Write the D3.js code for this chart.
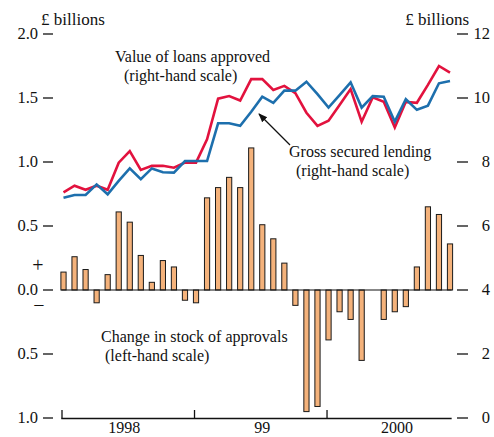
<!DOCTYPE html>
<html>
<head>
<meta charset="utf-8">
<script src="https://cdn.jsdelivr.net/npm/d3@7"></script>
<style>
  body { margin: 0; background: #fff; }
  text { font-family: "Liberation Serif", "DejaVu Serif", serif; fill: #111; }
</style>
</head>
<body>
<div id="chart"></div>
<script>
// monthly data, Jan 1998 - Dec 2000
const stockChange = [0.14, 0.26, 0.16, -0.10, 0.12, 0.61, 0.53, 0.27, 0.06, 0.23, 0.18, -0.08,
                     -0.10, 0.72, 0.80, 0.88, 0.80, 1.11, 0.51, 0.40, 0.21, -0.12, -0.95, -0.91,
                     -0.39, -0.17, -0.23, -0.55, 0, -0.23, -0.17, -0.13, 0.18, 0.65, 0.59, 0.36];
const loansApproved = [7.05, 7.26, 7.13, 7.26, 7.13, 7.98, 8.34, 7.75, 7.88, 7.88, 7.82, 7.98,
                       7.98, 8.71, 9.98, 10.06, 9.92, 10.59, 10.59, 10.25, 10.38, 10.15, 9.54, 9.13,
                       9.29, 9.78, 10.28, 9.26, 10.02, 9.88, 9.08, 9.88, 9.85, 10.41, 11.0, 10.79];
const grossLending = [6.88, 6.97, 6.97, 7.30, 6.99, 7.41, 7.80, 7.46, 7.80, 7.68, 7.67, 8.03,
                      8.03, 8.03, 9.21, 9.21, 9.13, 9.57, 10.04, 9.85, 10.23, 10.23, 10.51, 10.12,
                      9.70, 10.09, 10.49, 9.70, 10.06, 10.04, 9.26, 9.96, 9.63, 9.76, 10.46, 10.53];
const leftTicks = [2.0, 1.5, 1.0, 0.5, 0.0, -0.5, -1.0];
const rightTicks = [12, 10, 8, 6, 4, 2, 0];
const yearTicks = [0, 12, 24];
const yearLabels = [{ label: "1998", pos: 5.5 }, { label: "99", pos: 18 }, { label: "2000", pos: 30.2 }];

const width = 494, height = 437;
const fs = 16.5;
const svg = d3.select("#chart").append("svg").attr("width", width).attr("height", height);

const x = d3.scaleLinear().domain([0, 35]).range([63.5, 450]);
const yL = d3.scaleLinear().domain([-1, 2]).range([418, 34]);
const yR = d3.scaleLinear().domain([0, 12]).range([418, 34]);

// left axis
const left = svg.append("g");
leftTicks.forEach(t => {
  left.append("line").attr("x1", 43).attr("x2", 53).attr("y1", yL(t)).attr("y2", yL(t))
    .attr("stroke", "#111").attr("stroke-width", 1.3);
  left.append("text").attr("x", 38).attr("y", yL(t) + 5).attr("text-anchor", "end")
    .attr("font-size", fs).text(Math.abs(t).toFixed(1));
});
svg.append("text").attr("x", 41).attr("y", 25).attr("font-size", 17).text("£ billions");
svg.append("text").attr("x", 38).attr("y", 272).attr("text-anchor", "middle").attr("font-size", 20).text("+");
svg.append("text").attr("x", 39).attr("y", 312).attr("text-anchor", "middle").attr("font-size", 20).text("−");

// right axis
rightTicks.forEach(t => {
  svg.append("line").attr("x1", 457).attr("x2", 468).attr("y1", yR(t)).attr("y2", yR(t))
    .attr("stroke", "#111").attr("stroke-width", 1.3);
  svg.append("text").attr("x", 490).attr("y", yR(t) + 5).attr("text-anchor", "end")
    .attr("font-size", fs).text(t);
});
svg.append("text").attr("x", 469).attr("y", 25).attr("text-anchor", "end").attr("font-size", 17).text("£ billions");

// bottom axis
svg.append("line").attr("x1", x(-0.2)).attr("x2", x(35.15)).attr("y1", 418.5).attr("y2", 418.5)
  .attr("stroke", "#111").attr("stroke-width", 1.3);
yearTicks.forEach(t => {
  svg.append("line").attr("x1", x(t) - 1.5).attr("x2", x(t) - 1.5).attr("y1", 410).attr("y2", 418.5)
    .attr("stroke", "#111").attr("stroke-width", 1.3);
});
yearLabels.forEach(d => {
  svg.append("text").attr("x", x(d.pos)).attr("y", 433).attr("text-anchor", "middle")
    .attr("font-size", 16).text(d.label);
});

// bars
svg.append("g").selectAll("rect").data(stockChange).join("rect")
  .attr("x", (d, i) => x(i) - 2.6)
  .attr("width", 5.2)
  .attr("y", d => Math.min(yL(d), yL(0)))
  .attr("height", d => Math.abs(yL(d) - yL(0)))
  .attr("fill", "#f4b27b")
  .attr("stroke", "#1a1a1a")
  .attr("stroke-width", 1);

// zero line
svg.append("line").attr("x1", x(-0.2)).attr("x2", x(35.15)).attr("y1", yL(0)).attr("y2", yL(0))
  .attr("stroke", "#111").attr("stroke-width", 1.2);

// lines
const line = d3.line().x((d, i) => x(i)).y(d => yR(d));
svg.append("path").datum(loansApproved).attr("d", line)
  .attr("fill", "none").attr("stroke", "#e2123e").attr("stroke-width", 2.6);
svg.append("path").datum(grossLending).attr("d", line)
  .attr("fill", "none").attr("stroke", "#1d6fad").attr("stroke-width", 2.6);

// annotations
const ann = [
  { t: "Value of loans approved", x: 115, y: 62 },
  { t: "(right-hand scale)", x: 124, y: 81 },
  { t: "Gross secured lending", x: 289, y: 157 },
  { t: "(right-hand scale)", x: 296, y: 176 },
  { t: "Change in stock of approvals", x: 101, y: 342 },
  { t: "(left-hand scale)", x: 105, y: 361 }
];
ann.forEach(a => svg.append("text").attr("x", a.x).attr("y", a.y).attr("font-size", 16).text(a.t));

svg.append("defs").append("marker").attr("id", "arr").attr("viewBox", "0 0 10 10")
  .attr("refX", 9).attr("refY", 5).attr("markerWidth", 9).attr("markerHeight", 9)
  .attr("markerUnits", "userSpaceOnUse").attr("orient", "auto")
  .append("path").attr("d", "M0,1 L10,5 L0,9 Z").attr("fill", "#111");
svg.append("line").attr("x1", 290).attr("y1", 145).attr("x2", 259).attr("y2", 114)
  .attr("stroke", "#111").attr("stroke-width", 1.2).attr("marker-end", "url(#arr)");
</script>
</body>
</html>
